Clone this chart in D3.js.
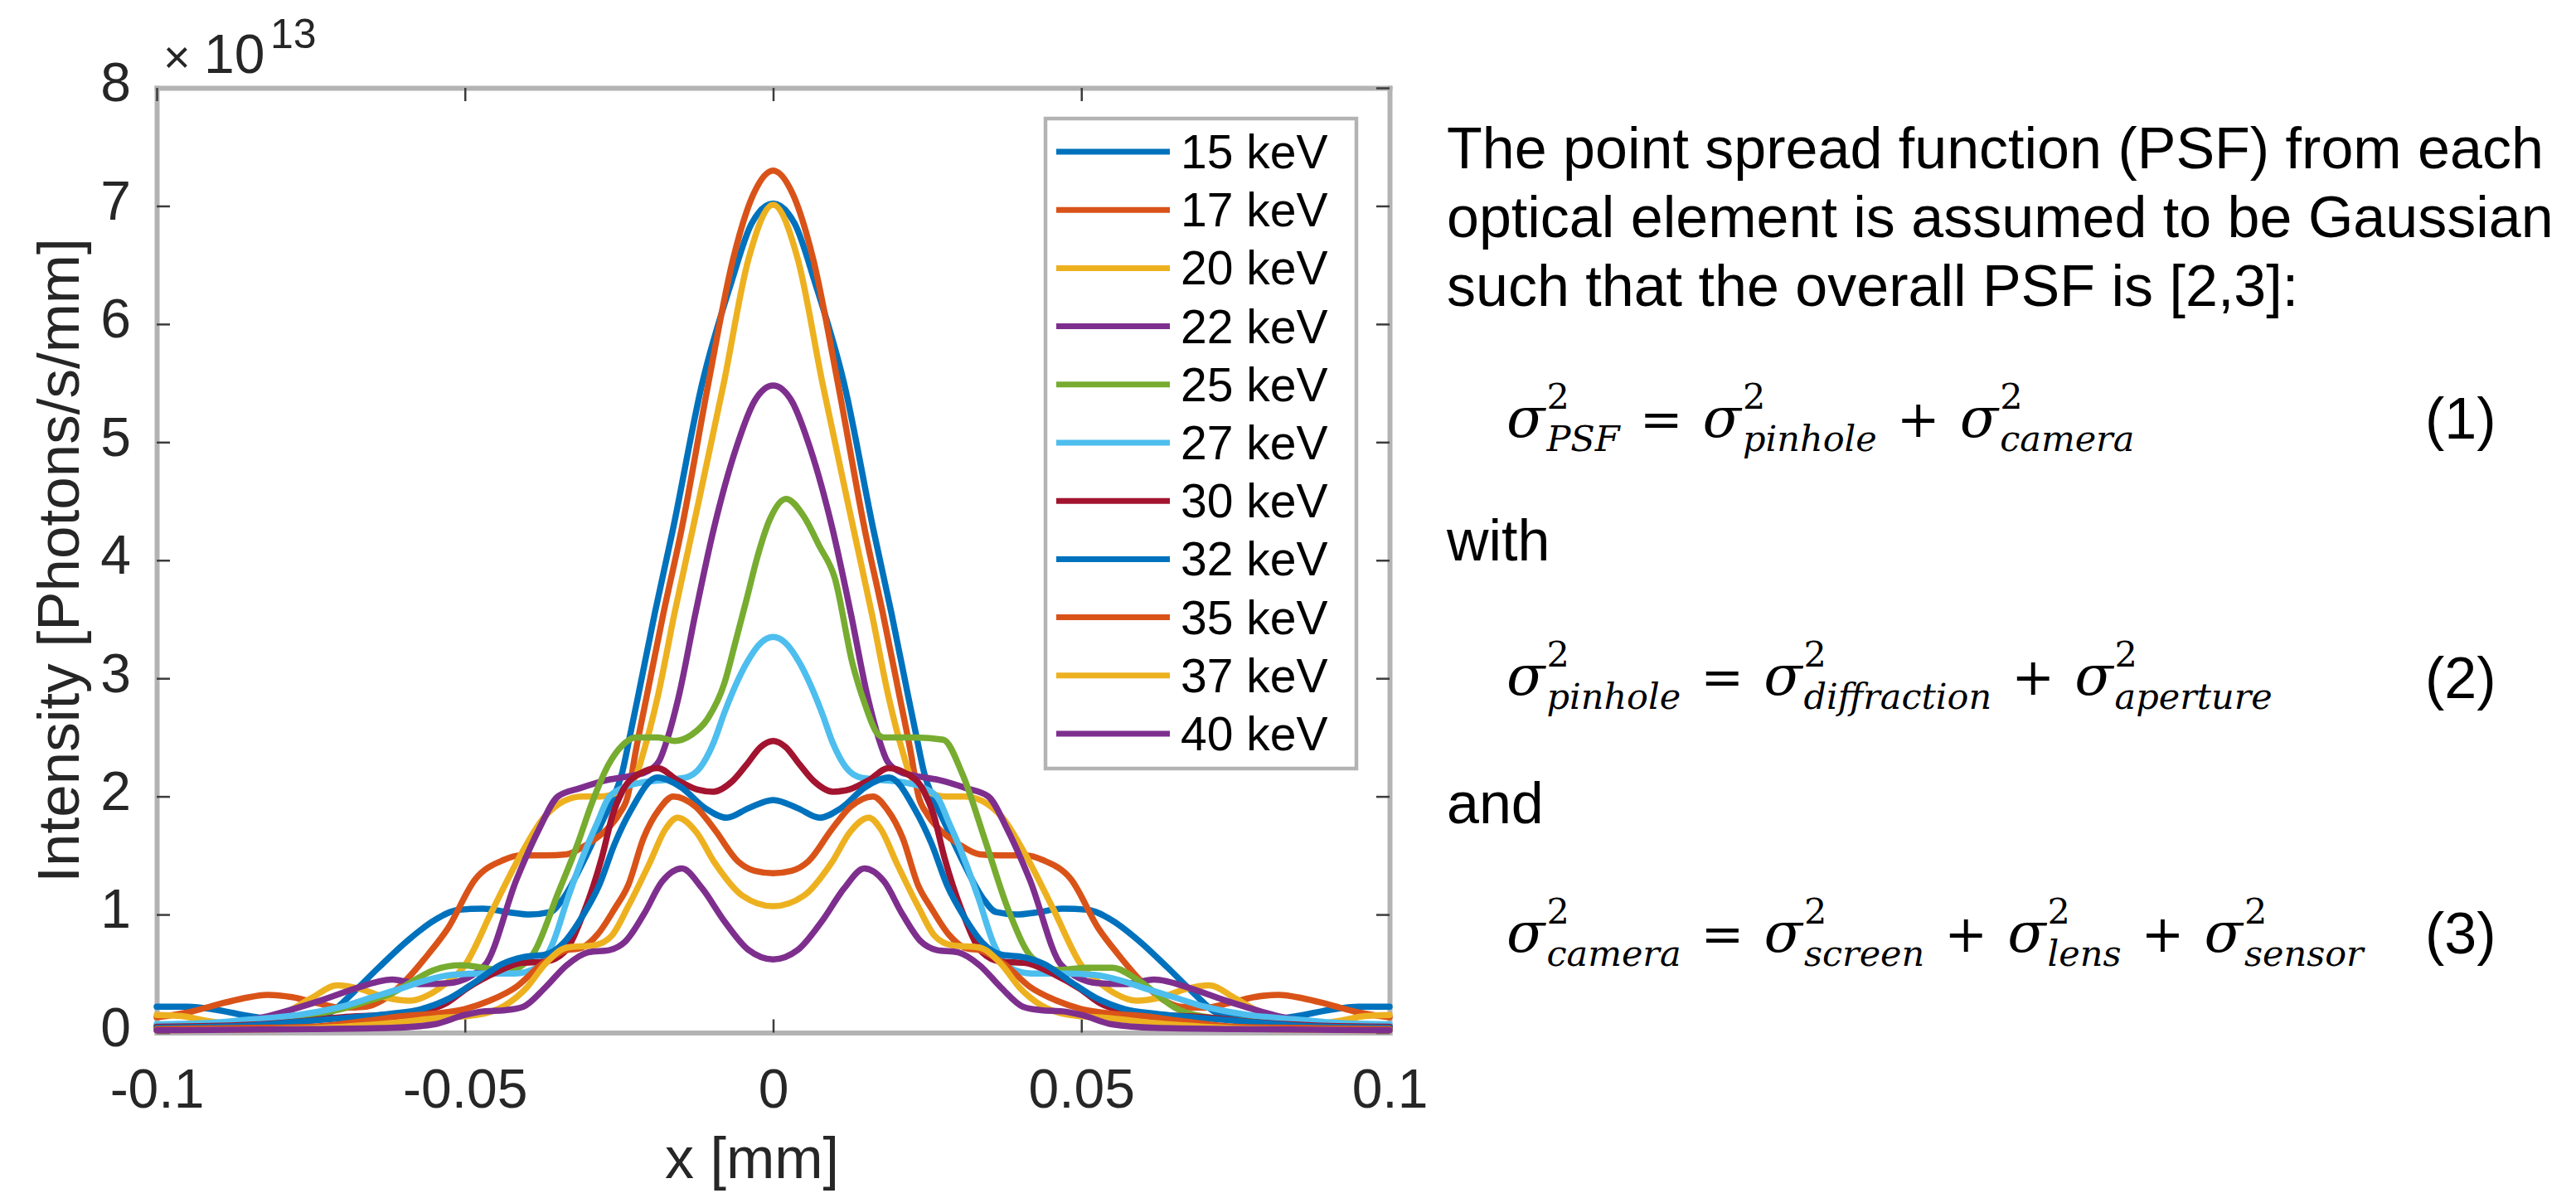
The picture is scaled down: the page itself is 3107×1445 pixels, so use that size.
<!DOCTYPE html>
<html>
<head>
<meta charset="utf-8">
<script src="https://cdnjs.cloudflare.com/ajax/libs/d3/7.8.5/d3.min.js"></script>
<style>
body{margin:0;background:#fff;}
svg{display:block;}
</style>
</head>
<body>
<svg id="svg" width="3107" height="1445"></svg>
<script>
// tick values / labels
const xTicks = [-0.1, -0.05, 0, 0.05, 0.1];
const xTickLabels = ["-0.1", "-0.05", "0", "0.05", "0.1"];
const yTicks = [0, 1, 2, 3, 4, 5, 6, 7, 8];

const energies = ["15 keV","17 keV","20 keV","22 keV","25 keV","27 keV","30 keV","32 keV","35 keV","37 keV","40 keV"];
const lineColors = ["#0072BD","#D95319","#EDB120","#7E2F8E","#77AC30","#4DBEEE","#A2142F","#0072BD","#D95319","#EDB120","#7E2F8E"];

// intensity in units of 1e13 photons/s/mm, [x mm, value]
const psf15 = [[-0.1,0.22],[-0.095,0.22],[-0.09,0.19],[-0.085,0.14],[-0.08,0.11],[-0.075,0.12],[-0.0715,0.18],[-0.0685,0.32],[-0.064,0.55],[-0.0595,0.77],[-0.055,0.95],[-0.051,1.04],[-0.047,1.05],[-0.043,1.02],[-0.0395,1.0],[-0.0362,1.02],[-0.034,1.14],[-0.0304,1.49],[-0.0277,1.79],[-0.026,1.98],[-0.0245,2.2],[-0.0232,2.52],[-0.0219,2.85],[-0.0192,3.55],[-0.0163,4.25],[-0.0115,5.5],[-0.0068,6.35],[-0.0035,6.85],[0,7.02],
  [0.0035,6.85],[0.0068,6.35],[0.0115,5.5],[0.0163,4.25],[0.0192,3.55],[0.0219,2.85],[0.0232,2.52],[0.0245,2.2],[0.026,1.98],[0.0277,1.79],[0.0304,1.49],[0.034,1.14],[0.0362,1.02],[0.0395,1.0],[0.043,1.02],[0.047,1.05],[0.051,1.04],[0.055,0.95],[0.0595,0.77],[0.064,0.55],[0.0685,0.32],[0.0715,0.18],[0.075,0.12],[0.08,0.11],[0.085,0.14],[0.09,0.19],[0.095,0.22],[0.1,0.22]];
const psf17 = [[-0.1,0.13],[-0.095,0.17],[-0.09,0.24],[-0.086,0.29],[-0.082,0.32],[-0.078,0.3],[-0.074,0.25],[-0.07,0.21],[-0.066,0.22],[-0.0635,0.27],[-0.06,0.42],[-0.056,0.66],[-0.0528,0.88],[-0.0483,1.3],[-0.0438,1.46],[-0.041,1.5],[-0.037,1.5],[-0.0335,1.51],[-0.03,1.6],[-0.027,1.72],[-0.025,1.85],[-0.0236,2.0],[-0.0223,2.38],[-0.0205,2.85],[-0.0178,3.55],[-0.0149,4.25],[-0.0105,5.5],[-0.0065,6.55],[-0.0032,7.1],[0,7.3],
  [0.0032,7.1],[0.0065,6.55],[0.0105,5.5],[0.0149,4.25],[0.0178,3.55],[0.0205,2.85],[0.0223,2.38],[0.0236,2.0],[0.025,1.85],[0.027,1.72],[0.03,1.6],[0.0335,1.51],[0.037,1.5],[0.041,1.5],[0.0438,1.46],[0.0483,1.3],[0.0528,0.88],[0.056,0.66],[0.06,0.42],[0.0635,0.27],[0.066,0.22],[0.07,0.21],[0.074,0.25],[0.078,0.3],[0.082,0.32],[0.086,0.29],[0.09,0.24],[0.095,0.17],[0.1,0.13]];
const psf20 = [[-0.1,0.15],[-0.096,0.14],[-0.092,0.1],[-0.087,0.07],[-0.083,0.09],[-0.079,0.17],[-0.075,0.29],[-0.0707,0.4],[-0.067,0.37],[-0.063,0.3],[-0.059,0.27],[-0.0555,0.33],[-0.0535,0.4],[-0.05,0.57],[-0.0456,1.03],[-0.041,1.5],[-0.0372,1.82],[-0.034,1.96],[-0.031,2.0],[-0.028,2.0],[-0.0255,2.03],[-0.0235,2.1],[-0.0223,2.17],[-0.021,2.38],[-0.0187,2.85],[-0.016,3.55],[-0.0131,4.25],[-0.008,5.5],[-0.004,6.55],[0,7.01],
  [0.004,6.55],[0.008,5.5],[0.0131,4.25],[0.016,3.55],[0.0187,2.85],[0.021,2.38],[0.0223,2.17],[0.0235,2.1],[0.0255,2.03],[0.028,2.0],[0.031,2.0],[0.034,1.96],[0.0372,1.82],[0.041,1.5],[0.0456,1.03],[0.05,0.57],[0.0535,0.4],[0.0555,0.33],[0.059,0.27],[0.063,0.3],[0.067,0.37],[0.0707,0.4],[0.075,0.29],[0.079,0.17],[0.083,0.09],[0.087,0.07],[0.092,0.1],[0.096,0.14],[0.1,0.15]];
const psf22 = [[-0.1,0.06],[-0.093,0.07],[-0.086,0.1],[-0.0819,0.14],[-0.0765,0.22],[-0.0729,0.28],[-0.068,0.37],[-0.0618,0.45],[-0.057,0.41],[-0.0525,0.42],[-0.0468,0.57],[-0.0416,1.3],[-0.038,1.72],[-0.0349,2.0],[-0.0313,2.07],[-0.0268,2.14],[-0.0225,2.18],[-0.0205,2.21],[-0.0185,2.3],[-0.0172,2.48],[-0.0153,2.85],[-0.0126,3.55],[-0.0097,4.25],[-0.006,4.95],[-0.003,5.35],[0,5.48],
  [0.003,5.35],[0.006,4.95],[0.0097,4.25],[0.0126,3.55],[0.0153,2.85],[0.0172,2.48],[0.0185,2.3],[0.0205,2.21],[0.0225,2.18],[0.0268,2.14],[0.0313,2.07],[0.0349,2.0],[0.038,1.72],[0.0416,1.3],[0.0468,0.57],[0.0525,0.42],[0.057,0.41],[0.0618,0.45],[0.068,0.37],[0.0729,0.28],[0.0765,0.22],[0.0819,0.14],[0.086,0.1],[0.093,0.07],[0.1,0.06]];
const psf25 = [[-0.1,0.03],[-0.092,0.04],[-0.085,0.07],[-0.08,0.11],[-0.075,0.15],[-0.07,0.2],[-0.065,0.28],[-0.062,0.33],[-0.058,0.45],[-0.055,0.53],[-0.0506,0.57],[-0.047,0.55],[-0.0435,0.52],[-0.041,0.56],[-0.0389,0.67],[-0.0349,1.18],[-0.0317,1.6],[-0.0295,1.93],[-0.0286,2.05],[-0.0268,2.26],[-0.0245,2.43],[-0.0223,2.5],[-0.0187,2.5],[-0.016,2.47],[-0.0133,2.52],[-0.0106,2.66],[-0.0079,2.96],[-0.0061,3.31],[-0.0043,3.67],[-0.0026,4.02],[-0.0005,4.35],[0.0021,4.52],
  [0.005,4.37],[0.0075,4.12],[0.01,3.85],[0.0129,3.12],[0.0149,2.78],[0.0168,2.54],[0.018,2.5],[0.023,2.5],[0.0276,2.48],[0.0307,2.19],[0.0345,1.61],[0.0383,1.02],[0.0421,0.63],[0.0465,0.53],[0.051,0.55],[0.055,0.55],[0.0593,0.44],[0.0656,0.2],[0.072,0.12],[0.08,0.09],[0.09,0.06],[0.1,0.04]];
const psf27 = [[-0.1,0.07],[-0.092,0.08],[-0.085,0.11],[-0.077,0.15],[-0.07,0.22],[-0.065,0.3],[-0.06,0.38],[-0.0565,0.44],[-0.052,0.49],[-0.047,0.5],[-0.042,0.5],[-0.0383,0.55],[-0.0358,0.75],[-0.0333,1.14],[-0.0304,1.55],[-0.0285,1.78],[-0.0268,1.98],[-0.0245,2.07],[-0.021,2.12],[-0.0175,2.14],[-0.0142,2.16],[-0.0119,2.24],[-0.0097,2.45],[-0.0079,2.71],[-0.0061,2.94],[-0.0043,3.13],[-0.002,3.3],[0,3.35],
  [0.002,3.3],[0.0043,3.13],[0.0061,2.94],[0.0079,2.71],[0.0097,2.45],[0.0119,2.24],[0.0142,2.16],[0.0175,2.14],[0.021,2.12],[0.0245,2.07],[0.0268,1.98],[0.0285,1.78],[0.0304,1.55],[0.0333,1.14],[0.0358,0.75],[0.0383,0.55],[0.042,0.5],[0.047,0.5],[0.052,0.49],[0.0565,0.44],[0.06,0.38],[0.065,0.3],[0.07,0.22],[0.077,0.15],[0.085,0.11],[0.092,0.08],[0.1,0.07]];
const psf30 = [[-0.1,0.05],[-0.088,0.06],[-0.078,0.09],[-0.07,0.13],[-0.063,0.15],[-0.057,0.18],[-0.053,0.25],[-0.0498,0.37],[-0.0445,0.52],[-0.041,0.59],[-0.037,0.6],[-0.0339,0.68],[-0.0307,1.02],[-0.0278,1.48],[-0.026,1.85],[-0.0245,2.04],[-0.0214,2.2],[-0.0187,2.24],[-0.0156,2.14],[-0.0124,2.06],[-0.0097,2.04],[-0.0066,2.13],[-0.0043,2.27],[-0.002,2.42],[0,2.47],
  [0.002,2.42],[0.0043,2.27],[0.0066,2.13],[0.0097,2.04],[0.0124,2.06],[0.0156,2.14],[0.0187,2.24],[0.0214,2.2],[0.0245,2.04],[0.026,1.85],[0.0278,1.48],[0.0307,1.02],[0.0339,0.68],[0.037,0.6],[0.041,0.59],[0.0445,0.52],[0.0498,0.37],[0.053,0.25],[0.057,0.18],[0.063,0.15],[0.07,0.13],[0.078,0.09],[0.088,0.06],[0.1,0.05]];
const psf32 = [[-0.1,0.04],[-0.085,0.06],[-0.075,0.1],[-0.068,0.13],[-0.062,0.16],[-0.057,0.2],[-0.0525,0.29],[-0.048,0.44],[-0.044,0.58],[-0.0405,0.64],[-0.037,0.66],[-0.034,0.76],[-0.031,0.98],[-0.0282,1.25],[-0.0257,1.6],[-0.023,1.89],[-0.0188,2.16],[-0.015,2.08],[-0.011,1.9],[-0.0075,1.82],[-0.004,1.9],[0,1.97],
  [0.004,1.9],[0.0075,1.82],[0.011,1.9],[0.015,2.08],[0.0188,2.16],[0.023,1.89],[0.0257,1.6],[0.0282,1.25],[0.031,0.98],[0.034,0.76],[0.037,0.66],[0.0405,0.64],[0.044,0.58],[0.048,0.44],[0.0525,0.29],[0.057,0.2],[0.062,0.16],[0.068,0.13],[0.075,0.1],[0.085,0.06],[0.1,0.04]];
const psf35 = [[-0.1,0.03],[-0.085,0.04],[-0.075,0.05],[-0.066,0.1],[-0.06,0.14],[-0.055,0.16],[-0.05,0.2],[-0.046,0.27],[-0.0416,0.39],[-0.0375,0.58],[-0.034,0.69],[-0.031,0.72],[-0.0285,0.83],[-0.0257,1.05],[-0.0235,1.25],[-0.021,1.65],[-0.0185,1.89],[-0.0162,2.0],[-0.0125,1.91],[-0.0095,1.72],[-0.0057,1.45],[-0.003,1.37],[0,1.35],
  [0.003,1.37],[0.0057,1.45],[0.0095,1.72],[0.0125,1.91],[0.0162,2.0],[0.0185,1.89],[0.021,1.65],[0.0235,1.25],[0.0257,1.05],[0.0285,0.83],[0.031,0.72],[0.034,0.69],[0.0375,0.58],[0.0416,0.39],[0.046,0.27],[0.05,0.2],[0.055,0.16],[0.06,0.14],[0.066,0.1],[0.075,0.05],[0.085,0.04],[0.1,0.03]];
const psf37 = [[-0.1,0.02],[-0.08,0.03],[-0.07,0.05],[-0.062,0.08],[-0.055,0.12],[-0.048,0.15],[-0.0435,0.23],[-0.04,0.38],[-0.037,0.58],[-0.0335,0.72],[-0.029,0.74],[-0.0262,0.82],[-0.0235,1.07],[-0.02,1.44],[-0.0175,1.72],[-0.0155,1.82],[-0.0125,1.7],[-0.0095,1.44],[-0.005,1.16],[0,1.07],
  [0.005,1.16],[0.0095,1.44],[0.0125,1.7],[0.0155,1.82],[0.0175,1.72],[0.02,1.44],[0.0235,1.07],[0.0262,0.82],[0.029,0.74],[0.0335,0.72],[0.037,0.58],[0.04,0.38],[0.0435,0.23],[0.048,0.15],[0.055,0.12],[0.062,0.08],[0.07,0.05],[0.08,0.03],[0.1,0.02]];
const psf40 = [[-0.1,0.02],[-0.075,0.03],[-0.062,0.04],[-0.055,0.07],[-0.05,0.15],[-0.047,0.18],[-0.0435,0.19],[-0.0405,0.22],[-0.037,0.38],[-0.0335,0.57],[-0.03,0.68],[-0.0265,0.7],[-0.024,0.77],[-0.021,1.0],[-0.018,1.28],[-0.0148,1.39],[-0.0115,1.22],[-0.008,0.95],[-0.004,0.7],[0,0.62],
  [0.004,0.7],[0.008,0.95],[0.0115,1.22],[0.0148,1.39],[0.018,1.28],[0.021,1.0],[0.024,0.77],[0.0265,0.7],[0.03,0.68],[0.0335,0.57],[0.037,0.38],[0.0405,0.22],[0.0435,0.19],[0.047,0.18],[0.05,0.15],[0.055,0.07],[0.062,0.04],[0.075,0.03],[0.1,0.02]];

const allSeries = [psf15, psf17, psf20, psf22, psf25, psf27, psf30, psf32, psf35, psf37, psf40];

const sansFont = "'Liberation Sans', Arial, Helvetica, sans-serif";
const mathFont = "'DejaVu Serif', serif";

const svg = d3.select("#svg");
svg.append("rect").attr("width", 3107).attr("height", 1445).attr("fill", "#fff");

const x = d3.scaleLinear().domain([-0.1, 0.1]).range([189, 1676]);
const y = d3.scaleLinear().domain([0, 8]).range([1245.5, 106]);

// axes, ticks inside like matlab
const styleAxis = (g) => {
    g.attr("font-size", null).attr("font-family", null);
    g.select(".domain").attr("stroke", "#b3b3b3").attr("stroke-width", 6).attr("stroke-linecap", "square");
    g.selectAll(".tick line").attr("stroke", "#3c3c3c").attr("stroke-width", 2.5);
    g.selectAll(".tick text").attr("font-size", 66).attr("font-family", sansFont).attr("fill", "#262626");
};

svg.append("g").attr("transform", `translate(0,${y(0)})`)
    .call(d3.axisBottom(x).tickValues(xTicks).tickFormat((d, i) => xTickLabels[i]).tickSizeInner(-16).tickSizeOuter(0).tickPadding(44))
    .call(styleAxis);
const gy = svg.append("g").attr("transform", `translate(${x(-0.1)},0)`)
    .call(d3.axisLeft(y).tickValues(yTicks).tickFormat(d3.format("d")).tickSizeInner(-16).tickSizeOuter(0).tickPadding(31))
    .call(styleAxis);
gy.selectAll(".tick text").attr("dy", "0.24em");
svg.append("g").attr("transform", `translate(0,${y(8)})`)
    .call(d3.axisTop(x).tickValues(xTicks).tickFormat("").tickSizeInner(-16).tickSizeOuter(0))
    .call(styleAxis);
svg.append("g").attr("transform", `translate(${x(0.1)},0)`)
    .call(d3.axisRight(y).tickValues(yTicks).tickFormat("").tickSizeInner(-16).tickSizeOuter(0))
    .call(styleAxis);

// exponent label
const expo = svg.append("text").attr("font-family", sansFont).attr("fill", "#262626");
expo.append("tspan").attr("x", 197).attr("y", 88).attr("font-size", 56).text("×");
expo.append("tspan").attr("x", 246).attr("y", 88).attr("font-size", 66).text("10");
expo.append("tspan").attr("x", 326).attr("y", 58).attr("font-size", 50).text("13");

// axis titles
svg.append("text").attr("transform", "translate(95,676) rotate(-90)").attr("text-anchor", "middle")
    .attr("font-family", sansFont).attr("font-size", 71).attr("fill", "#262626").text("Intensity [Photons/s/mm]");
svg.append("text").attr("x", 907).attr("y", 1421).attr("text-anchor", "middle")
    .attr("font-family", sansFont).attr("font-size", 70).attr("fill", "#262626").text("x [mm]");

// curves
const line = d3.line().x(d => x(d[0])).y(d => y(d[1])).curve(d3.curveMonotoneX);
svg.append("g").selectAll("path").data(allSeries).join("path")
    .attr("d", line)
    .attr("fill", "none")
    .attr("stroke", (d, i) => lineColors[i])
    .attr("stroke-width", 7.5)
    .attr("stroke-linejoin", "round")
    .attr("stroke-linecap", "round");

// legend
const leg = svg.append("g");
leg.append("rect").attr("x", 1261).attr("y", 143).attr("width", 375).attr("height", 784)
    .attr("fill", "#fff").attr("stroke", "#b3b3b3").attr("stroke-width", 4.5);
energies.forEach((e, i) => {
    let ly = 183 + i * 70.2;
    leg.append("line").attr("x1", 1274).attr("x2", 1411).attr("y1", ly).attr("y2", ly)
        .attr("stroke", lineColors[i]).attr("stroke-width", 7);
    leg.append("text").attr("x", 1424).attr("y", ly + 20).attr("font-family", sansFont)
        .attr("font-size", 57).attr("fill", "#000").text(e);
});

// text on the right
const para = ["The point spread function (PSF) from each", "optical element is assumed to be Gaussian", "such that the overall PSF is [2,3]:"];
const paraY = [203, 286, 369];
para.forEach((p, i) => {
    svg.append("text").attr("x", 1745).attr("y", paraY[i]).attr("font-family", sansFont)
        .attr("font-size", 70).attr("fill", "#000").text(p);
});
svg.append("text").attr("x", 1745).attr("y", 676).attr("font-family", sansFont).attr("font-size", 70).text("with");
svg.append("text").attr("x", 1745).attr("y", 993).attr("font-family", sansFont).attr("font-size", 70).text("and");

const eq1 = [["σ", "2", "PSF"], "=", ["σ", "2", "pinhole"], "+", ["σ", "2", "camera"]];
const eq2 = [["σ", "2", "pinhole"], "=", ["σ", "2", "diffraction"], "+", ["σ", "2", "aperture"]];
const eq3 = [["σ", "2", "camera"], "=", ["σ", "2", "screen"], "+", ["σ", "2", "lens"], "+", ["σ", "2", "sensor"]];

// sigma, then superscript over subscript (separate texts, kept apart vertically)
const drawEq = (tokens, x0, base) => {
    let cx = x0;
    tokens.forEach(tk => {
        if (typeof tk === "string") {
            cx += 24;
            let t = svg.append("text").attr("x", cx).attr("y", base).attr("font-family", mathFont)
                .attr("font-size", 62).text(tk);
            cx += t.node().getComputedTextLength() + 24;
        } else {
            let s = svg.append("text").attr("x", cx).attr("y", base).attr("font-family", mathFont)
                .attr("font-style", "italic").attr("font-size", 68).text(tk[0]);
            let sx = cx + s.node().getComputedTextLength() + 2;
            let sp = svg.append("text").attr("x", sx).attr("y", base - 34).attr("font-family", mathFont)
                .attr("font-size", 43).text(tk[1]);
            let sb = svg.append("text").attr("x", sx).attr("y", base + 17).attr("font-family", mathFont)
                .attr("font-size", 43).attr("font-style", "italic").text(tk[2]);
            cx = sx + Math.max(sp.node().getComputedTextLength(), sb.node().getComputedTextLength());
        }
    });
};
drawEq(eq1, 1817, 527);
drawEq(eq2, 1817, 838);
drawEq(eq3, 1817, 1148);

const eqNums = ["(1)", "(2)", "(3)"];
const eqNumY = [529, 842, 1150];
eqNums.forEach((n, i) => {
    svg.append("text").attr("x", 2925).attr("y", eqNumY[i]).attr("font-family", sansFont)
        .attr("font-size", 70).text(n);
});
</script>
</body>
</html>
